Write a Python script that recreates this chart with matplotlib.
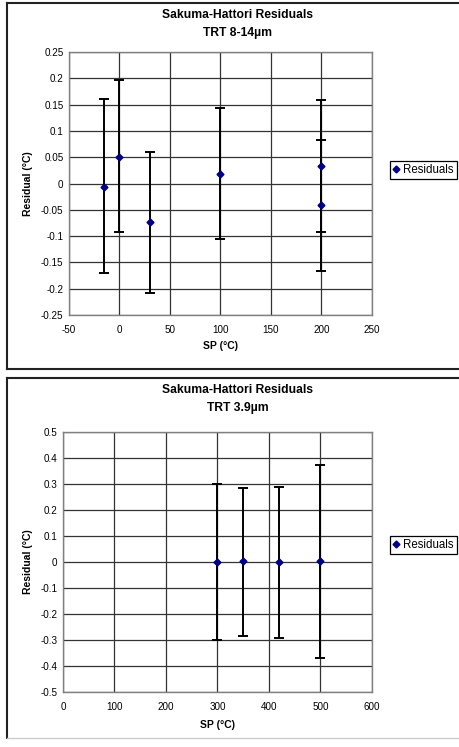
import matplotlib.pyplot as plt
from matplotlib.lines import Line2D

plt.rcParams['font.family'] = ['Liberation Sans', 'DejaVu Sans']
plt.rcParams['axes.unicode_minus'] = False

# TRT 8-14um
sp_a = [-15, 0, 30, 100, 200, 200]
res_a = [-0.007, 0.051, -0.074, 0.018, 0.034, -0.041]
err_lo_a = [0.164, 0.143, 0.135, 0.123, 0.126, 0.126]
err_hi_a = [0.167, 0.145, 0.134, 0.125, 0.125, 0.123]

# TRT 3.9um
sp_b = [300, 350, 420, 500]
res_b = [0.0, 0.002, 0.0, 0.002]
err_lo_b = [0.300, 0.285, 0.293, 0.370]
err_hi_b = [0.300, 0.283, 0.287, 0.370]

W, H = 460, 747


def fx(px):
    return px / W


def fy(py):
    return 1 - py / H


def panel(fig, rect, x, y, lo, hi, xlim, xticks, ylim, yticks,
          sub, top, bottom, title_y, xlab_y, leg_y):
    l, t, r, b = rect
    ax = fig.add_axes([fx(l), fy(b), fx(r - l), (b - t) / H])
    ax.errorbar(x, y, yerr=[lo, hi], fmt='none', ecolor='black',
                elinewidth=1.4, capsize=3.5, capthick=1.4, zorder=3)
    ax.plot(x, y, 'D', color='#000080', markersize=3.5, zorder=4)
    ax.set_xlim(*xlim)
    ax.set_ylim(*ylim)
    ax.set_xticks(xticks)
    ax.set_yticks(yticks)
    ax.set_yticklabels(['0' if v == 0 else '%g' % v for v in yticks])
    ax.grid(True, color='#333333', linewidth=0.9)
    ax.set_axisbelow(True)
    for s in ax.spines.values():
        s.set_color('#808080')
        s.set_linewidth(1.0)
    ax.tick_params(length=0, labelsize=7.1)
    ax.tick_params(axis='x', pad=7)
    ax.tick_params(axis='y', pad=4)
    ax.set_xlabel('SP (°C)', fontsize=7.5, fontweight='bold')
    ax.xaxis.set_label_coords(0.5, -(xlab_y - b) / (b - t))
    ax.set_ylabel('Residual (°C)', fontsize=7.5, fontweight='bold')
    ax.yaxis.set_label_coords(-(l - 33) / (r - l), 0.5)

    fig.text(fx(238), fy(title_y), 'Sakuma-Hattori Residuals', ha='center',
             va='center', fontsize=8.7, fontweight='bold')
    fig.text(fx(238), fy(title_y + 18), sub, ha='center', va='center',
             fontsize=8.7, fontweight='bold')

    handle = Line2D([], [], marker='D', color='#000080', linestyle='none',
                    markersize=3.5)
    leg = ax.legend([handle], ['Residuals'], loc='center left',
                    bbox_to_anchor=(fx(390), fy(leg_y)),
                    bbox_transform=fig.transFigure, fontsize=8.3,
                    fancybox=False, framealpha=1, edgecolor='black',
                    handlelength=0.6, handletextpad=0.3, borderpad=0.25,
                    borderaxespad=0)
    leg.get_frame().set_linewidth(0.9)

    # chart frame
    fig.add_artist(Line2D([fx(7), fx(7)], [fy(top), fy(bottom)],
                          color='#222222', linewidth=1.5))
    fig.add_artist(Line2D([fx(7), 1], [fy(top), fy(top)],
                          color='#222222', linewidth=1.5))
    return ax


fig = plt.figure(figsize=(W / 100, H / 100), dpi=100)

panel(fig, (69, 52, 372, 315), sp_a, res_a, err_lo_a, err_hi_a,
      (-50, 250), list(range(-50, 251, 50)), (-0.25, 0.25),
      [round(-0.25 + 0.05 * i, 2) for i in range(11)],
      'TRT 8-14µm', 3, 369, 15, 341, 170)
fig.add_artist(Line2D([fx(7), 1], [fy(369), fy(369)],
                      color='#222222', linewidth=1.5))

panel(fig, (63, 432, 372, 692), sp_b, res_b, err_lo_b, err_hi_b,
      (0, 600), list(range(0, 601, 100)), (-0.5, 0.5),
      [round(-0.5 + 0.1 * i, 1) for i in range(11)],
      'TRT 3.9µm', 378, 738, 390, 720, 545)
fig.add_artist(Line2D([fx(7), 1], [fy(738), fy(738)],
                      color='#cccccc', linewidth=1.0))

fig.savefig('out.png', dpi=100)
